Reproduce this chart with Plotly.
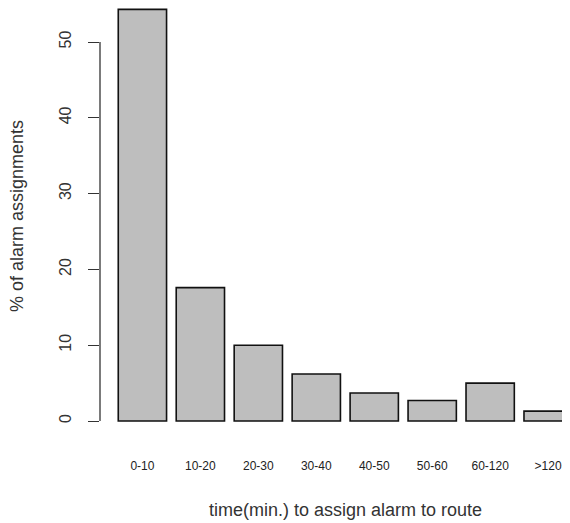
import plotly.graph_objects as go

categories = ["0-10", "10-20", "20-30", "30-40", "40-50", "50-60", "60-120", ">120"]
values = [54.3, 17.6, 10.0, 6.2, 3.7, 2.7, 5.0, 1.3]
y_ticks = [0, 10, 20, 30, 40, 50]

# R barplot layout: width 1, space 0.2
xpos = [0.7 + 1.2 * i for i in range(len(categories))]

# page body has an 8px margin: design in figure pixels = screen pixels - 8
OFF = 8
W, H = 570 - OFF, 523 - OFF
ml, mr, mt, mb = 100 - OFF, 0, 0, 85
px_per_x = 48.3
x0_pix = 108.6 - OFF
xmin = (ml - x0_pix) / px_per_x
xmax = (W - mr - x0_pix) / px_per_x
py_per_y = 7.58
zero_pix = 421 - OFF
ymax = zero_pix / py_per_y
ymin = -((H - mb) - zero_pix) / py_per_y

font = "Liberation Sans, Arial, Helvetica, sans-serif"

fig = go.Figure(go.Bar(
    x=xpos, y=values, width=1.0,
    marker=dict(color="#bebebe", line=dict(color="#111111", width=1.6)),
))

fig.update_layout(
    width=W, height=H,
    margin=dict(l=ml, r=mr, t=mt, b=mb),
    plot_bgcolor="white", paper_bgcolor="white",
    showlegend=False,
    font=dict(family=font, color="#222222"),
    xaxis=dict(
        range=[xmin, xmax], tickmode="array", tickvals=xpos, ticktext=categories,
        ticks="outside", ticklen=17, tickcolor="rgba(0,0,0,0)",
        showgrid=False, zeroline=False, showline=False,
        tickfont=dict(size=12, color="#222222"),
    ),
    yaxis=dict(
        range=[ymin, ymax], tickmode="array", tickvals=y_ticks,
        ticktext=[str(v) for v in y_ticks],
        ticks="outside", ticklen=11, tickwidth=1.3, tickcolor="#333333",
        tickangle=-90, ticklabelstandoff=11,
        showgrid=False, zeroline=False, showline=False,
        tickfont=dict(size=16, color="#333333"),
    ),
    shapes=[dict(type="line", xref="paper", yref="y", x0=0, x1=0,
                 y0=y_ticks[0], y1=y_ticks[-1], line=dict(color="#333333", width=1.3))],
    annotations=[
        dict(text="% of alarm assignments", xref="paper", yref="paper",
             x=(17 - OFF - ml) / (W - ml - mr), y=1 - (216 - OFF - mt) / (H - mt - mb),
             showarrow=False, textangle=-90, font=dict(size=18, color="#333333"),
             xanchor="center", yanchor="middle"),
        dict(text="time(min.) to assign alarm to route", xref="paper", yref="paper",
             x=(345 - OFF - ml) / (W - ml - mr), y=1 - (510 - OFF - mt) / (H - mt - mb),
             showarrow=False, font=dict(size=18, color="#333333"),
             xanchor="center", yanchor="middle"),
    ],
)

fig.write_html("out.html")
